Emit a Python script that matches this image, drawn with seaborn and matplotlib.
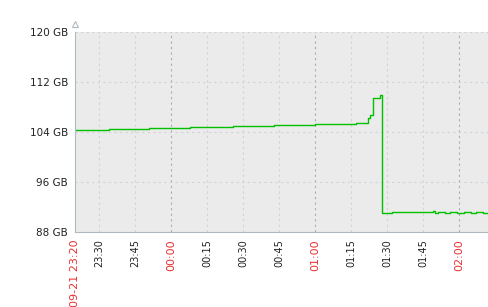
import matplotlib
matplotlib.use("Agg")
import matplotlib.pyplot as plt
import seaborn as sns
import pandas as pd

# --- data ---
times = ["2023-09-21 23:20", "2023-09-21 23:34", "2023-09-21 23:51", "2023-09-22 00:08",
         "2023-09-22 00:26", "2023-09-22 00:43", "2023-09-22 01:00", "2023-09-22 01:17",
         "2023-09-22 01:22", "2023-09-22 01:23", "2023-09-22 01:24", "2023-09-22 01:27",
         "2023-09-22 01:28", "2023-09-22 01:32", "2023-09-22 01:49", "2023-09-22 01:50",
         "2023-09-22 01:51", "2023-09-22 01:54", "2023-09-22 01:56", "2023-09-22 01:59",
         "2023-09-22 02:02", "2023-09-22 02:05", "2023-09-22 02:07", "2023-09-22 02:10",
         "2023-09-22 02:12"]
values_gb = [104.27, 104.43, 104.6, 104.78,
             104.95, 105.1, 105.25, 105.4,
             106.2, 106.8, 109.5, 109.9,
             91.0, 91.15, 91.3, 91.0,
             91.25, 91.05, 91.25, 91.0,
             91.25, 91.05, 91.2, 91.1,
             91.1]
y_ticks = [88, 96, 104, 112, 120]
x_tick_times = ["2023-09-21 23:20", "2023-09-21 23:30", "2023-09-21 23:45", "2023-09-22 00:00",
                "2023-09-22 00:15", "2023-09-22 00:30", "2023-09-22 00:45", "2023-09-22 01:00",
                "2023-09-22 01:15", "2023-09-22 01:30", "2023-09-22 01:45", "2023-09-22 02:00"]
x_tick_labels = ["09-21 23:20", "23:30", "23:45", "00:00", "00:15", "00:30", "00:45",
                 "01:00", "01:15", "01:30", "01:45", "02:00"]
major_labels = {"09-21 23:20", "00:00", "01:00", "02:00"}

df = pd.DataFrame({"time": pd.to_datetime(times), "value": values_gb})

sns.set_style("white")
plt.rcParams["font.family"] = ["DejaVu Sans"]

fig = plt.figure(figsize=(4.88, 3.07), dpi=100)
ax = fig.add_axes([75 / 488, 1 - 232 / 307, 413 / 488, 200 / 307])
ax.set_facecolor("#ebebeb")

sns.lineplot(data=df, x="time", y="value", ax=ax, color="#00c000", linewidth=1.0,
             drawstyle="steps-post")

x0 = pd.Timestamp("2023-09-21 23:20")
x1 = pd.Timestamp("2023-09-22 02:12")
ax.set_xlim(x0, x1)
ax.set_ylim(88, 120)

xt = pd.to_datetime(x_tick_times)
ax.set_xticks(xt)
ax.set_xticklabels(x_tick_labels, rotation=90, fontsize=7)
for lbl in ax.get_xticklabels():
    lbl.set_color("#e83030" if lbl.get_text() in major_labels else "#222222")
    if lbl.get_text() in major_labels:
        lbl.set_fontsize(8)

ax.set_yticks(y_ticks)
ax.set_yticklabels([f"{v} GB" for v in y_ticks], fontsize=7.5, color="#222222")

# grid
for t, lab in zip(xt, x_tick_labels):
    if lab == "09-21 23:20":
        continue
    col = "#a8adb3" if lab in major_labels else "#cfd3d7"
    ax.axvline(t, color=col, linestyle=(0, (2, 3)), linewidth=0.8, zorder=0)
for v in y_ticks[1:]:
    ax.axhline(v, color="#cfd3d7", linestyle=(0, (2, 3)), linewidth=0.8, zorder=0,
               clip_on=False)

ax.tick_params(axis="both", length=3, width=0.6, color="#b0b6bc", pad=2)
ax.set_xlabel("")
ax.set_ylabel("")
for s in ["top", "right"]:
    ax.spines[s].set_visible(False)
ax.spines["left"].set_color("#b0b8c0")
ax.spines["bottom"].set_color("#b0b8c0")
ax.spines["left"].set_linewidth(0.8)
ax.spines["bottom"].set_linewidth(0.8)

# arrow at top of y axis
ax.plot([0], [1.04], marker="^", markersize=5, markerfacecolor="white",
        markeredgecolor="#b0b8c0", markeredgewidth=0.8, transform=ax.transAxes, clip_on=False)

fig.savefig("out.png", dpi=100)
